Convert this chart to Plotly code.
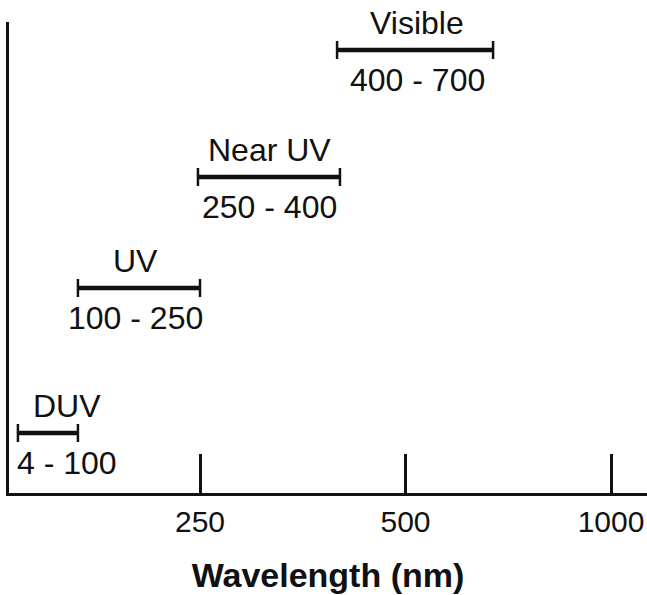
import plotly.graph_objects as go

# Schematic wavelength bands (positions in schematic axis units; 250 nm = 1, 500 nm = 2, 1000 nm = 3)
band_names = ["DUV", "UV", "Near UV", "Visible"]
band_ranges = ["4 - 100", "100 - 250", "250 - 400", "400 - 700"]
band_start = [0.114, 0.406, 0.99, 1.667]
band_end = [0.406, 1.0, 1.681, 2.426]
band_level = [60, 205, 316, 443]
tick_pos = [1, 2, 3]
tick_labels = ["250", "500", "1000"]

label_xshift = [19, -3, 1, 2]

FONT = "Liberation Sans, Arial, Helvetica, sans-serif"

fig = go.Figure()

for s, e, lv in zip(band_start, band_end, band_level):
    fig.add_trace(go.Scatter(
        x=[s, e], y=[lv, lv], mode="lines",
        line=dict(color="#111111", width=4.5),
        hoverinfo="skip", showlegend=False,
    ))
    c = (s + e) / 2
    fig.add_trace(go.Scatter(
        x=[c], y=[lv], mode="markers",
        marker=dict(size=1, opacity=0),
        error_x=dict(type="data", symmetric=True, array=[(e - s) / 2],
                     width=9, thickness=2.5, color="#111111"),
        hoverinfo="skip", showlegend=False,
    ))

annotations = []
for name, rng, s, e, lv, dx in zip(band_names, band_ranges, band_start, band_end,
                                  band_level, label_xshift):
    c = (s + e) / 2
    annotations.append(dict(x=c, y=lv, text=name, showarrow=False, xshift=dx, yshift=27,
                            xanchor="center", yanchor="middle",
                            font=dict(family=FONT, size=32, color="#111111")))
    annotations.append(dict(x=c, y=lv, text=rng, showarrow=False, xshift=dx, yshift=-30,
                            xanchor="center", yanchor="middle",
                            font=dict(family=FONT, size=32, color="#111111")))

fig.update_layout(
    width=647, height=595,
    margin=dict(l=9, r=0, t=22, b=102),
    paper_bgcolor="white", plot_bgcolor="white",
    annotations=annotations,
    xaxis=dict(
        range=[0.0706, 3.175], showgrid=False, zeroline=False,
        showline=True, linecolor="#111111", linewidth=3,
        ticks="inside", ticklen=39, tickwidth=2.5, tickcolor="#111111",
        tickvals=tick_pos, ticktext=tick_labels,
        tickfont=dict(family=FONT, size=30, color="#111111"),
        title=dict(text="<b>Wavelength (nm)</b>", standoff=27,
                   font=dict(family=FONT, size=34, color="#111111")),
    ),
    yaxis=dict(
        range=[0, 471], showgrid=False, zeroline=False,
        showline=True, linecolor="#111111", linewidth=3,
        showticklabels=False, ticks="",
    ),
)

fig.write_html(
    "out.html",
    config={"displayModeBar": False},
    post_script="document.body.style.margin='0';document.body.style.overflow='hidden';",
)
